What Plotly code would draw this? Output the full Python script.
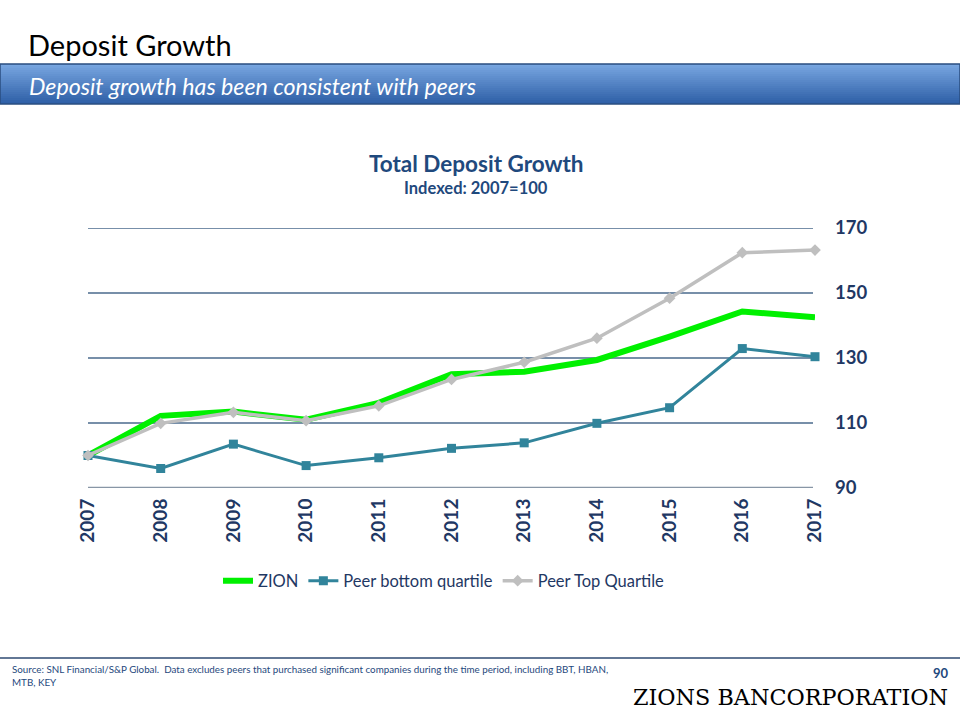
import plotly.graph_objects as go

years = [2007, 2008, 2009, 2010, 2011, 2012, 2013, 2014, 2015, 2016, 2017]
zion = [100, 112.2, 113.5, 111.0, 116.2, 125.0, 125.8, 129.4, 136.6, 144.3, 142.5]
peer_bottom = [100, 96.0, 103.5, 96.9, 99.3, 102.2, 103.9, 109.9, 114.7, 132.9, 130.4]
peer_top = [100, 109.9, 113.3, 110.7, 115.3, 123.4, 128.7, 136.1, 148.4, 162.4, 163.2]
y_ticks = [90, 110, 130, 150, 170]

W, H = 960, 720
L, R, T, B = 88, 815, 228, 488


def px(x):
    return (x - L) / (R - L)


def py(y):
    return (B - y) / (B - T)


NAVY = "#1F3864"
FONT = "Lato, 'Open Sans', sans-serif"

fig = go.Figure()
fig.add_trace(go.Scatter(x=years, y=zion, name="ZION", mode="lines",
                         line=dict(color="#00F000", width=6), cliponaxis=False))
fig.add_trace(go.Scatter(x=years, y=peer_bottom, name="Peer bottom quartile", mode="lines+markers",
                         line=dict(color="#31849B", width=3),
                         marker=dict(symbol="square", size=9, color="#31849B"), cliponaxis=False))
fig.add_trace(go.Scatter(x=years, y=peer_top, name="Peer Top Quartile", mode="lines+markers",
                         line=dict(color="#BFBFBF", width=3.5),
                         marker=dict(symbol="diamond", size=9, color="#BFBFBF"), cliponaxis=False))

shapes = []
# gridlines through the y axis
for v in y_ticks:
    shapes.append(dict(type="line", xref="paper", yref="y", x0=0, x1=px(813), y0=v, y1=v,
                       line=dict(color="#8896A6" if v == y_ticks[0] else "#4A6A8C",
                                 width=2.5 if v == y_ticks[0] else 1.3),
                       layer="below"))
# header gradient bar
top, bot = 64, 104
steps = 20
c0 = (120, 166, 224)
c1 = (47, 96, 168)
for i in range(steps):
    t = i / (steps - 1)
    c = tuple(int(c0[k] + (c1[k] - c0[k]) * t) for k in range(3))
    y0 = top + (bot - top) * i / steps
    y1 = top + (bot - top) * (i + 1) / steps
    shapes.append(dict(type="rect", xref="paper", yref="paper", x0=px(0), x1=px(960),
                       y0=py(y1), y1=py(y0), line=dict(width=0),
                       fillcolor="rgb(%d,%d,%d)" % c, layer="below"))
shapes.append(dict(type="rect", xref="paper", yref="paper", x0=px(0), x1=px(960),
                   y0=py(bot), y1=py(top), line=dict(color="#2A4E80", width=1.5),
                   fillcolor="rgba(0,0,0,0)"))
# footer line
shapes.append(dict(type="line", xref="paper", yref="paper", x0=px(0), x1=px(960),
                   y0=py(658), y1=py(658), line=dict(color="#2E4A72", width=1.5)))

annotations = [
    dict(text="Deposit Growth", x=px(26), y=py(44), xanchor="left", yanchor="middle",
         font=dict(size=29, color="#000000", family=FONT)),
    dict(text="<i>Deposit growth has been consistent with peers</i>", x=px(27), y=py(86),
         xanchor="left", yanchor="middle", font=dict(size=23.2, color="#FFFFFF", family=FONT)),
    dict(text="<b>Total Deposit Growth</b>", x=px(476), y=py(163), xanchor="center", yanchor="middle",
         font=dict(size=22.5, color="#1F497D", family=FONT)),
    dict(text="<b>Indexed: 2007=100</b>", x=px(476), y=py(188), xanchor="center", yanchor="middle",
         font=dict(size=16.5, color="#1F497D", family=FONT)),
    dict(text="Source: SNL Financial/S&P Global.  Data excludes peers that purchased significant companies during the time period, including BBT, HBAN,<br>MTB, KEY",
         x=px(10), y=py(661), xanchor="left", yanchor="top", align="left",
         font=dict(size=9.8, color="#1F497D", family=FONT)),
    dict(text="<b>90</b>", x=px(950), y=py(673), xanchor="right", yanchor="middle",
         font=dict(size=13, color="#1F497D", family=FONT), borderpad=0),
    dict(text="ZIONS BANCORPORATION", x=px(949), y=py(697), xanchor="right", yanchor="middle",
         font=dict(size=22.3, color="#000000", family="'DejaVu Serif', serif"), borderpad=0),
]
for a in annotations:
    a.update(xref="paper", yref="paper", showarrow=False)

fig.update_layout(
    width=W, height=H,
    margin=dict(l=L, r=W - R, t=T, b=H - B, pad=0),
    paper_bgcolor="white", plot_bgcolor="white",
    font=dict(family=FONT, color=NAVY),
    shapes=shapes, annotations=annotations,
    showlegend=True,
    legend=dict(orientation="h", x=px(444), y=py(581), xanchor="center", yanchor="middle",
                font=dict(size=16.5, color=NAVY, family=FONT), itemwidth=30,
                bgcolor="rgba(0,0,0,0)"),
    xaxis=dict(range=[2007, 2017], tickmode="array", tickvals=years,
               ticktext=["<b>%d</b>" % y for y in years], tickangle=-90,
               tickfont=dict(size=19, color=NAVY, family=FONT), showgrid=False,
               showline=False, zeroline=False,
               ticks="outside", ticklen=2, tickcolor="rgba(0,0,0,0)"),
    yaxis=dict(range=[90, 170], tickmode="array", tickvals=y_ticks,
               ticktext=["<b>%d</b>" % v for v in y_ticks], side="right",
               tickfont=dict(size=18.5, color=NAVY, family=FONT), showgrid=False,
               zeroline=False, ticks="", ticklabelstandoff=19),
)

fig.write_html("out.html", config={"displayModeBar": False},
               post_script="document.body.style.margin='0';")
